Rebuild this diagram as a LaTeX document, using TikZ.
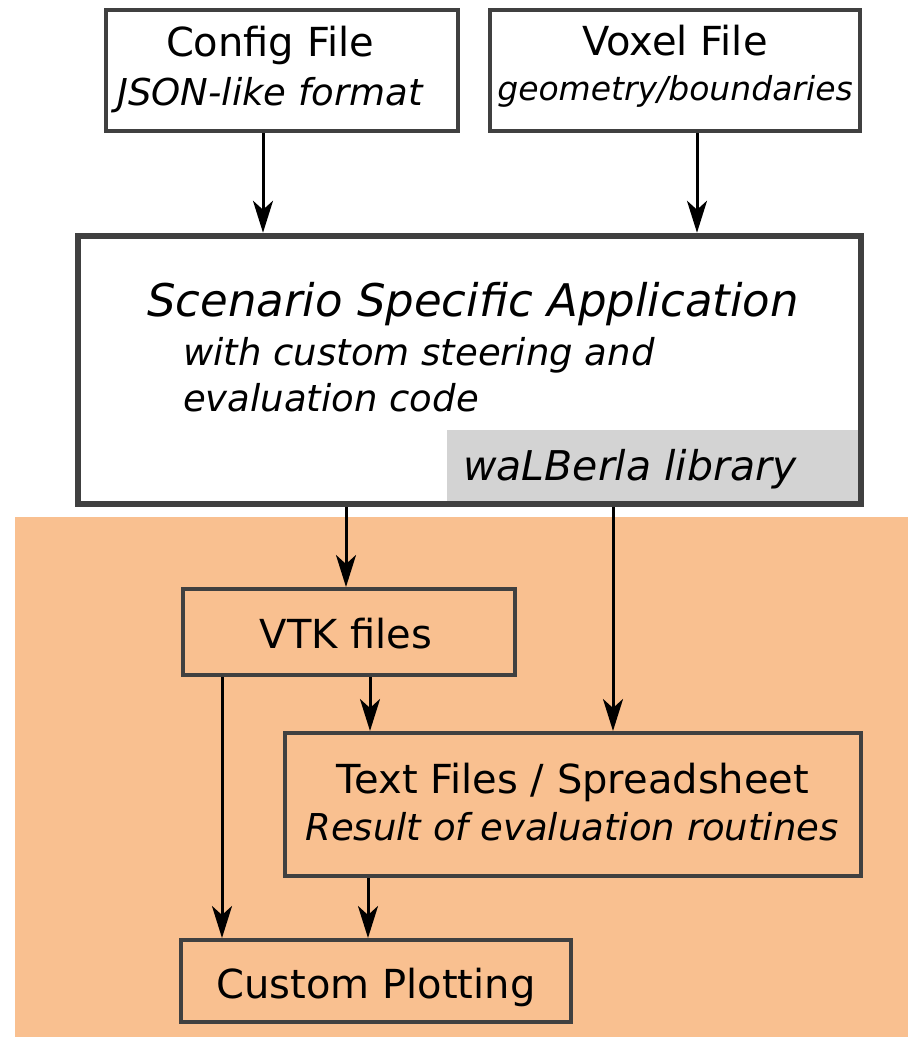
\documentclass[tikz,border=0pt]{standalone}
\usepackage{fontspec}
\setmainfont{DejaVu Sans}
\usetikzlibrary{arrows.meta}

\definecolor{boxgray}{RGB}{64,64,64}
\definecolor{libgray}{RGB}{211,211,211}
\definecolor{outorange}{RGB}{249,192,144}

\newcommand{\bigfont}{\fontsize{40}{48}\selectfont}
\newcommand{\subfont}{\fontsize{37}{44}\selectfont\itshape}

\begin{document}
\begin{tikzpicture}[x=1pt, y=-1pt,
  filebox/.style={draw=boxgray, line width=4pt, inner sep=0pt},
  appbox/.style={draw=boxgray, line width=6.5pt, inner sep=0pt},
  label/.style={inner sep=0pt, anchor=base},
  flow/.style={line width=3pt, -{Stealth[length=32pt, width=20pt, inset=9pt]}}]

\useasboundingbox (0,0) rectangle (908,1037);

% output region
\fill[outorange] (15,517) rectangle (908,1037);

% input files
\node[filebox, fill=white, minimum width=352pt, minimum height=121pt] (config) at (282,70.5) {};
\node[label, font=\bigfont] (configname) at (270,56) {Config File};
\node[label, font=\subfont] (configsub) at (270,105) {JSON-like format};

\node[filebox, fill=white, minimum width=370pt, minimum height=121pt] (voxel) at (675,70.5) {};
\node[label, font=\bigfont] (voxelname) at (675,55) {Voxel File};
\node[label, font=\fontsize{33}{40}\selectfont\itshape] (voxelsub) at (675,100) {geometry/boundaries};

% application
\fill[libgray] (447,430) rectangle (858,501);
\node[appbox, minimum width=783pt, minimum height=268pt] (app) at (469.5,370) {};
\node[label, anchor=base west, font=\fontsize{45}{54}\selectfont\itshape] (appname) at (147,316) {Scenario Specific Application};
\node[label, anchor=base west, font=\subfont] (appsub1) at (183,365) {with custom steering and};
\node[label, anchor=base west, font=\subfont] (appsub2) at (183,411) {evaluation code};
\node[label, anchor=base west, font=\fontsize{41}{49}\selectfont\itshape] (lib) at (463,480) {waLBerla library};

% outputs
\node[filebox, minimum width=332pt, minimum height=86pt] (vtk) at (349,632) {};
\node[label, font=\bigfont] (vtkname) at (346,648) {VTK files};

\node[filebox, minimum width=576pt, minimum height=143pt] (text) at (573,804.5) {};
\node[label, font=\bigfont] (textname) at (573,793) {Text Files / Spreadsheet};
\node[label, font=\subfont] (textsub) at (572,840) {Result of evaluation routines};

\node[filebox, minimum width=390pt, minimum height=82pt] (plot) at (376,981) {};
\node[label, font=\bigfont] (plotname) at (376,998) {Custom Plotting};

% connectors
\coordinate (c1) at ([xshift=-19pt]config.south);
\coordinate (c2) at ([xshift=22pt]voxel.south);
\coordinate (a1) at ([xshift=-123.5pt]app.south);
\coordinate (a2) at ([xshift=143.5pt]app.south);
\coordinate (v1) at ([xshift=21pt]vtk.south);
\coordinate (v2) at ([xshift=-127pt]vtk.south);
\coordinate (t1) at ([xshift=-205pt]text.south);

\draw[flow] (c1) -- (c1 |- app.north);
\draw[flow] (c2) -- (c2 |- app.north);
\draw[flow] (a1) -- (a1 |- vtk.north);
\draw[flow] (a2) -- (a2 |- text.north);
\draw[flow] (v1) -- (v1 |- text.north);
\draw[flow] (v2) -- (v2 |- plot.north);
\draw[flow] (t1) -- (t1 |- plot.north);

\end{tikzpicture}
\end{document}
